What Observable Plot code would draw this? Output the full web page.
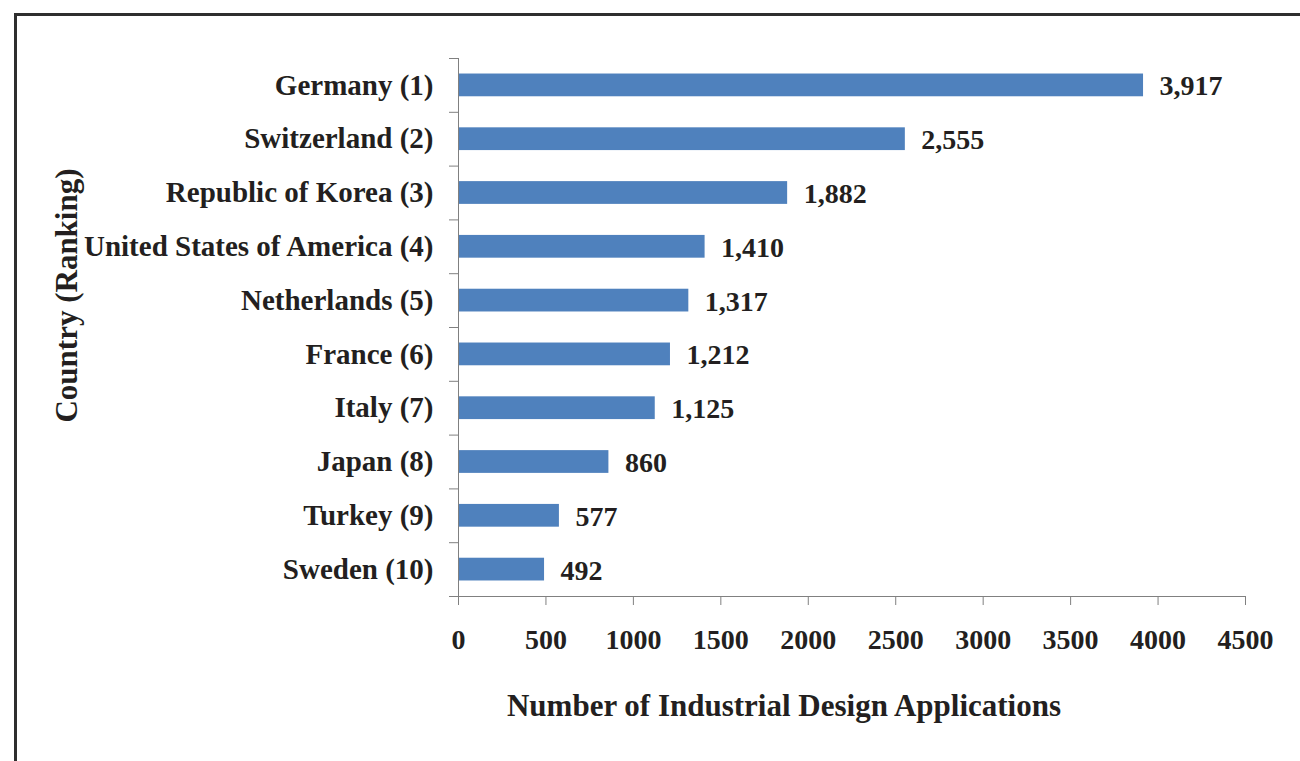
<!DOCTYPE html>
<html>
<head>
<meta charset="utf-8">
<script src="https://cdn.jsdelivr.net/npm/d3@7"></script>
<script src="https://cdn.jsdelivr.net/npm/@observablehq/plot@0.6"></script>
<style>
  html, body { margin: 0; padding: 0; background: #ffffff; }
  #wrap { position: relative; width: 1300px; height: 761px; overflow: hidden; }
  #wrap .edge { position: absolute; left: 14px; top: 13px; right: -10px; bottom: -10px;
    border-left: 3px solid #2e2e2e; border-top: 3px solid #2e2e2e; pointer-events: none; }
  #wrap svg { position: absolute; left: 0; top: 0; }
</style>
</head>
<body>
<div id="wrap"><div class="edge"></div></div>
<script>
// Top ten countries by industrial design applications, ranked
const countries = [
  "Germany (1)",
  "Switzerland (2)",
  "Republic of Korea (3)",
  "United States of America (4)",
  "Netherlands (5)",
  "France (6)",
  "Italy (7)",
  "Japan (8)",
  "Turkey (9)",
  "Sweden (10)"
];
const applications = [3917, 2555, 1882, 1410, 1317, 1212, 1125, 860, 577, 492];
const xTicks = [0, 500, 1000, 1500, 2000, 2500, 3000, 3500, 4000, 4500];
const xTitle = "Number of Industrial Design Applications";
const yTitle = "Country (Ranking)";

const rows = countries.map((country, i) => ({country, value: applications[i]}));

const W = 1300, H = 761;
const mTop = 58, mBottom = 165, mLeft = 458, mRight = 55;
const step = (H - mTop - mBottom) / countries.length;

const ink = "#231f20";
const axisGray = "#808080";
const barBlue = "#4f81bd";
const comma = d3.format(",");

const chart = Plot.plot({
  width: W,
  height: H,
  marginTop: mTop,
  marginBottom: mBottom,
  marginLeft: mLeft,
  marginRight: mRight,
  style: {
    fontFamily: "'Liberation Serif', 'Times New Roman', serif",
    fontWeight: "bold",
    fontSize: "28px",
    color: ink,
    background: "transparent"
  },
  x: {domain: [0, 4500]},
  y: {domain: countries, paddingInner: 0.577, paddingOuter: 0.2885, round: false},
  marks: [
    Plot.barX(rows, {y: "country", x: "value", fill: barBlue}),
    Plot.text(rows, {
      y: "country", x: "value", text: d => comma(d.value),
      textAnchor: "start", dx: 16, dy: 1, fill: ink, fontSize: 28, fontWeight: "bold"
    }),
    // category names
    Plot.axisY({tickSize: 0, tickPadding: 25, label: null, fill: ink, fontSize: 29, fontWeight: "bold"}),
    // tick marks between categories
    Plot.axisY({ticks: countries, tickSize: 9, text: null, label: null, dy: -step / 2, stroke: axisGray}),
    Plot.axisY({ticks: [countries[countries.length - 1]], tickSize: 9, text: null, label: null, dy: step / 2, stroke: axisGray}),
    Plot.ruleX([0], {stroke: axisGray}),
    Plot.frame({anchor: "bottom", stroke: axisGray}),
    Plot.axisX({
      ticks: xTicks, tickSize: 9, tickPadding: 24, tickFormat: d => String(d),
      label: null, stroke: axisGray, fill: ink, fontSize: 28, fontWeight: "bold"
    }),
    Plot.text([xTitle], {
      text: d => d, frameAnchor: "bottom", dx: -68, dy: 119,
      fontSize: 31, fontWeight: "bold", fill: ink
    }),
    Plot.text([yTitle], {
      text: d => d, frameAnchor: "left", textAnchor: "middle", rotate: -90, dx: -391, dy: -32,
      fontSize: 31, fontWeight: "bold", fill: ink
    })
  ]
});

document.getElementById("wrap").appendChild(chart);
</script>
</body>
</html>
